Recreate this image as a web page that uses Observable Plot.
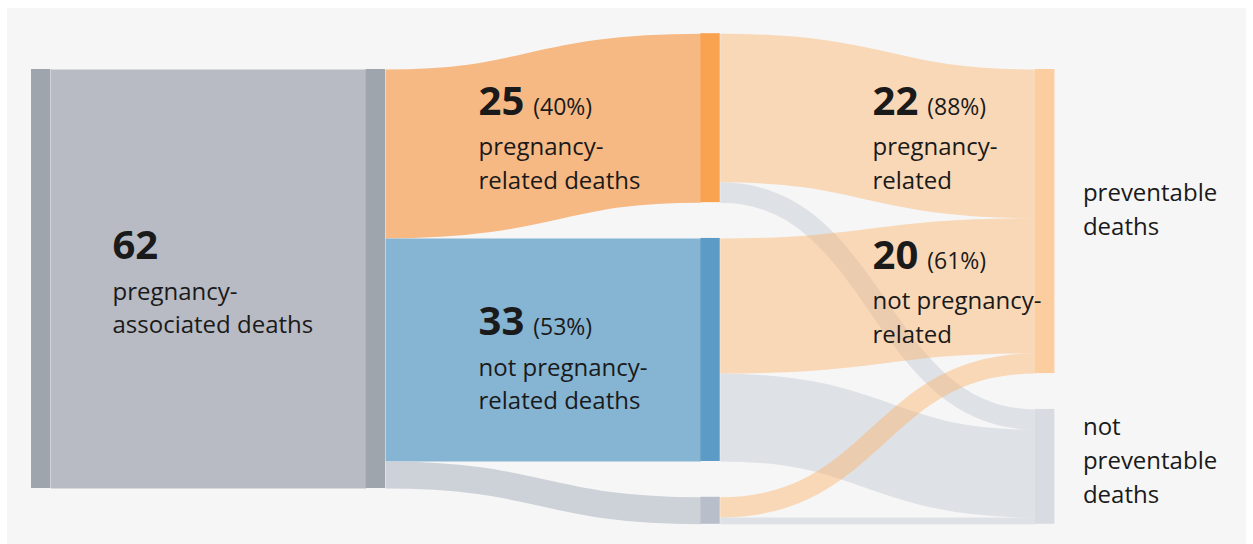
<!DOCTYPE html>
<html><head><meta charset="utf-8">
<script src="https://cdn.jsdelivr.net/npm/d3@7"></script>
<script src="https://cdn.jsdelivr.net/npm/@observablehq/plot@0.6"></script>
<style>
html,body{margin:0;padding:0;background:#fff;}
#panel{position:absolute;left:7px;top:8px;width:1239px;height:536px;background:#f6f6f6;}
#chart{position:absolute;left:0;top:0;}
</style></head>
<body><div id="panel"></div><div id="chart"></div>
<script>
// ---------------- DATA ----------------
const nodeIds = ["associated", "associatedOut", "related", "notRelated", "undetermined", "preventable", "notPreventable"];
const linkSource = ["associated", "associatedOut", "associatedOut", "associatedOut", "related", "related", "notRelated", "notRelated", "undetermined", "undetermined"];
const linkTarget = ["associatedOut", "related", "notRelated", "undetermined", "preventable", "notPreventable", "preventable", "notPreventable", "preventable", "notPreventable"];
const linkValue = [62, 25, 33, 4, 22, 3, 20, 13, 3, 1];

// labels placed on flows: which link, whether to show share, description
const labelLink = [0, 1, 2, 4, 6];
const labelShowPct = [false, true, true, true, true];
const labelText = ["pregnancy-\nassociated deaths", "pregnancy-\nrelated deaths", "not pregnancy-\nrelated deaths", "pregnancy-\nrelated", "not pregnancy-\nrelated"];
const endNodes = ["preventable", "notPreventable"];
const endText = ["preventable\ndeaths", "not\npreventable\ndeaths"];

// ---------------- STYLE / LAYOUT ----------------
const nodeFill = {associated: "#9ea5ad", associatedOut: "#9ea5ad", related: "#f9a24f", notRelated: "#5b9bc5", undetermined: "#b8bfca", preventable: "#fccd9e", notPreventable: "#d8dce2"};
const linkStyle = {
  associatedOut: ["#b8bbc4", 1], related: ["#f7b984", 1], notRelated: ["#86b4d3", 1], undetermined: ["#cdd1d8", 1],
  preventable: ["#fdb46a", 0.45], notPreventable: ["#c2c8d2", 0.45]
};
const GAP = 5.3;
const NODE_W = 0.058;
const colTop = [0, 0, -GAP, 0];
const labelPos = [[0.242, 28.1], [1.3357, 6.66], [1.3357, 39.36], [2.513, 6.66], [2.513, 29.45]];
const endDy = [-14, -9];
const FONT = "'Open Sans', 'Noto Sans', sans-serif";
const INK = "#1a1a1a";
const Y_RANGE = [69, 488], Y_DOMAIN = [0, 62];
const K = (Y_RANGE[1] - Y_RANGE[0]) / (Y_DOMAIN[1] - Y_DOMAIN[0]);

// ---------------- LAYOUT COMPUTATION ----------------
const links = linkValue.map((v, i) => ({source: linkSource[i], target: linkTarget[i], value: v}));
const depth = {};
nodeIds.forEach(id => { if (!linkTarget.includes(id)) depth[id] = 0; });
links.forEach(l => { depth[l.target] = Math.max(depth[l.target] ?? 0, depth[l.source] + 1); });
const nodes = nodeIds.map(id => {
  const vin = d3.sum(links.filter(l => l.target === id), l => l.value);
  const vout = d3.sum(links.filter(l => l.source === id), l => l.value);
  return {id, col: depth[id], value: Math.max(vin, vout)};
});
const byId = Object.fromEntries(nodes.map(n => [n.id, n]));
const cursor = {};
nodes.forEach(n => {
  if (cursor[n.col] === undefined) cursor[n.col] = colTop[n.col];
  n.y0 = cursor[n.col]; n.y1 = n.y0 + n.value; cursor[n.col] = n.y1 + GAP;
  n.outOff = n.y0; n.inOff = n.y0;
});
links.forEach(l => {
  const s = byId[l.source], t = byId[l.target];
  l.sy = s.outOff + l.value / 2; s.outOff += l.value;
  l.ty = t.inOff + l.value / 2; t.inOff += l.value;
  l.sx = s.col + NODE_W; l.tx = t.col;
  l.color = linkStyle[l.target][0]; l.opacity = linkStyle[l.target][1];
});

const labels = labelLink.map((li, i) => {
  const l = links[li];
  return {
    num: String(l.value),
    pct: labelShowPct[i] ? Math.round(100 * l.value / byId[l.source].value) : null,
    text: labelText[i], x: labelPos[i][0], y: labelPos[i][1]
  };
});

const ctx = document.createElement("canvas").getContext("2d");
ctx.font = `700 40px ${FONT}`;

const labelMarks = labels.flatMap(l => {
  const m = [
    Plot.text([l], {x: d => d.x, y: d => d.y, text: d => d.num, fontSize: 40, fontWeight: 700, textAnchor: "start", lineAnchor: "bottom", fill: INK}),
    Plot.text([l], {x: d => d.x, y: d => d.y, text: d => d.text, fontSize: 24, lineHeight: 1.4, textAnchor: "start", lineAnchor: "bottom", dy: 74, fill: INK})
  ];
  if (l.pct !== null) {
    const w = ctx.measureText(l.num).width;
    m.push(Plot.text([l], {x: d => d.x, y: d => d.y, text: d => `(${d.pct}%)`, fontSize: 23, textAnchor: "start", lineAnchor: "bottom", dx: w + 9, fill: INK}));
  }
  return m;
});

const endMarks = endNodes.map((id, i) => Plot.text([byId[id]], {
  x: d => d.col + NODE_W, y: d => (d.y0 + d.y1) / 2, text: () => endText[i],
  fontSize: 24, lineHeight: 1.42, textAnchor: "start", lineAnchor: "middle", dx: 28, dy: endDy[i], fill: INK
}));

const chart = Plot.plot({
  width: 1253, height: 544, margin: 0,
  x: {domain: [0, 3], range: [31, 1035], axis: null},
  y: {domain: Y_DOMAIN, range: Y_RANGE, axis: null},
  style: {background: "transparent", fontFamily: FONT, overflow: "visible"},
  marks: [
    Plot.link(links, {x1: "sx", x2: "tx", y1: "sy", y2: "ty", curve: "bump-x", stroke: "color", strokeOpacity: "opacity", strokeWidth: d => d.value * K}),
    Plot.rect(nodes, {x1: "col", x2: d => d.col + NODE_W, y1: "y0", y2: "y1", fill: d => nodeFill[d.id]}),
    ...labelMarks,
    ...endMarks
  ]
});
document.getElementById("chart").appendChild(chart);
</script>
</body></html>
